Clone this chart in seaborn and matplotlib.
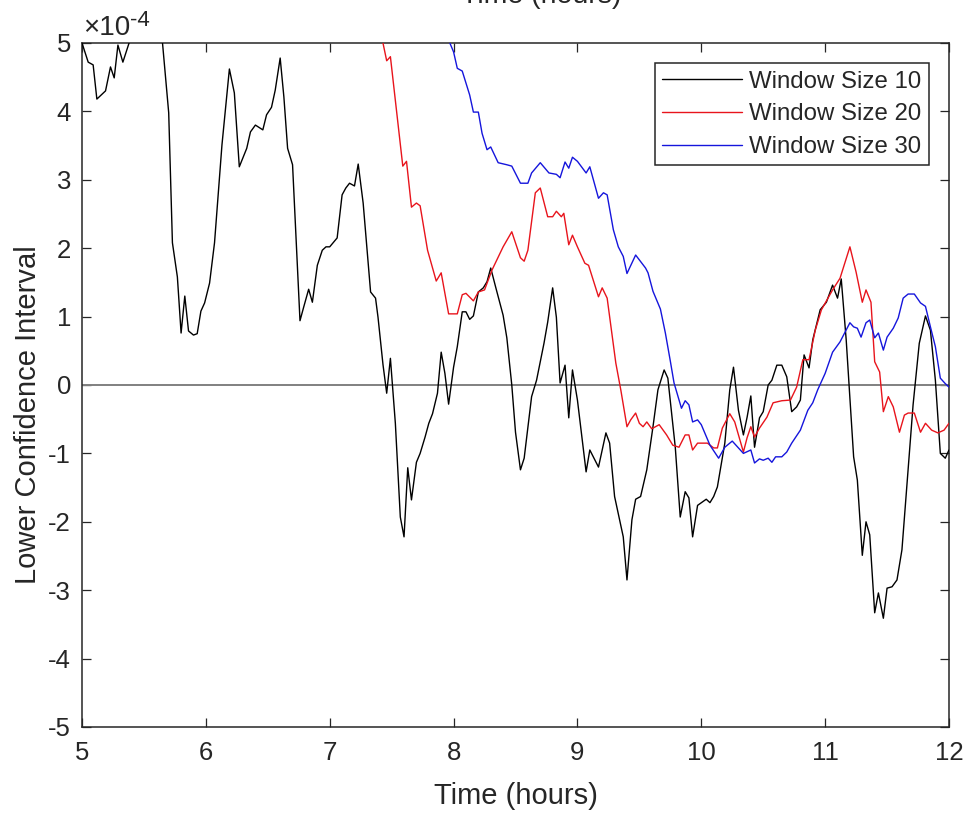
import numpy as np
import pandas as pd
import matplotlib
matplotlib.use("Agg")
import matplotlib.pyplot as plt
import seaborn as sns

# Données (valeurs en unités de 1e-4)
black_t = [5.00, 5.05, 5.09, 5.12, 5.19, 5.23, 5.26, 5.29, 5.33, 5.38, 5.48, 5.60, 5.65, 5.70,
           5.73, 5.77, 5.80, 5.83, 5.86, 5.90, 5.93, 5.96, 5.99, 6.03, 6.07, 6.13, 6.19, 6.23,
           6.27, 6.33, 6.36, 6.40, 6.46, 6.49, 6.53, 6.56, 6.60, 6.63, 6.66, 6.70, 6.76, 6.79,
           6.83, 6.86, 6.90, 6.94, 6.97, 7.00, 7.06, 7.10, 7.13, 7.16, 7.20, 7.23, 7.27, 7.33,
           7.37, 7.39, 7.43, 7.46, 7.49, 7.53, 7.57, 7.60, 7.63, 7.66, 7.70, 7.73, 7.77, 7.80,
           7.83, 7.87, 7.90, 7.93, 7.96, 8.00, 8.03, 8.07, 8.10, 8.13, 8.16, 8.20, 8.24, 8.27,
           8.30, 8.34, 8.40, 8.43, 8.47, 8.50, 8.54, 8.57, 8.63, 8.67, 8.73, 8.76, 8.80, 8.83,
           8.86, 8.90, 8.93, 8.96, 9.00, 9.07, 9.10, 9.17, 9.23, 9.26, 9.30, 9.37, 9.40, 9.44,
           9.47, 9.51, 9.56, 9.61, 9.65, 9.70, 9.73, 9.79, 9.83, 9.87, 9.90, 9.93, 9.97, 10.04,
           10.07, 10.10, 10.13, 10.19, 10.23, 10.26, 10.30, 10.34, 10.37, 10.40, 10.43, 10.47,
           10.50, 10.54, 10.57, 10.61, 10.65, 10.69, 10.73, 10.77, 10.80, 10.83, 10.87, 10.90,
           10.96, 11.01, 11.06, 11.10, 11.13, 11.17, 11.23, 11.26, 11.30, 11.33, 11.36, 11.40,
           11.43, 11.47, 11.50, 11.54, 11.58, 11.62, 11.67, 11.71, 11.76, 11.81, 11.85, 11.89,
           11.93, 11.97, 12.00]
black_v = [5.00, 4.72, 4.68, 4.18, 4.30, 4.65, 4.49, 4.97, 4.72, 5.00, 5.80, 5.80, 5.00, 3.98,
           2.08, 1.58, 0.76, 1.30, 0.79, 0.73, 0.75, 1.08, 1.20, 1.49, 2.08, 3.51, 4.62, 4.27,
           3.19, 3.46, 3.70, 3.80, 3.73, 3.95, 4.06, 4.31, 4.78, 4.21, 3.46, 3.22, 0.94, 1.14,
           1.40, 1.21, 1.75, 1.97, 2.02, 2.02, 2.15, 2.78, 2.88, 2.95, 2.91, 3.23, 2.66, 1.36,
           1.27, 0.99, 0.30, -0.12, 0.39, -0.56, -1.93, -2.22, -1.21, -1.68, -1.13, -1.00, -0.76, -0.56,
           -0.42, -0.12, 0.48, 0.17, -0.28, 0.26, 0.56, 1.07, 1.07, 0.96, 1.01, 1.36, 1.42, 1.51,
           1.71, 1.43, 1.02, 0.69, 0.00, -0.69, -1.24, -1.07, -0.17, 0.07, 0.61, 0.92, 1.42, 0.99,
           0.03, 0.29, -0.48, 0.22, -0.22, -1.27, -0.95, -1.20, -0.70, -0.85, -1.63, -2.22, -2.85, -1.97,
           -1.67, -1.63, -1.24, -0.61, -0.07, 0.22, 0.10, -0.91, -1.93, -1.56, -1.65, -2.22, -1.76, -1.67,
           -1.72, -1.63, -1.49, -0.85, -0.07, 0.26, -0.37, -0.73, -0.47, -0.16, -0.91, -0.48,
           -0.39, 0.00, 0.07, 0.29, 0.29, 0.12, -0.39, -0.32, -0.22, 0.44, 0.25, 0.66,
           1.10, 1.21, 1.46, 1.27, 1.55, 0.66, -1.05, -1.39, -2.49, -2.00, -2.19, -3.33,
           -3.04, -3.41, -2.97, -2.95, -2.85, -2.41, -1.24, -0.29, 0.61, 1.01, 0.80, 0.07,
           -1.00, -1.07, -0.95]

red_t = [7.38, 7.43, 7.46, 7.49, 7.59, 7.62, 7.66, 7.70, 7.73, 7.79, 7.86, 7.90, 7.96, 8.03,
         8.07, 8.10, 8.16, 8.20, 8.25, 8.31, 8.40, 8.47, 8.54, 8.57, 8.60, 8.66, 8.70, 8.76,
         8.80, 8.83, 8.87, 8.89, 8.93, 8.96, 9.00, 9.06, 9.09, 9.17, 9.20, 9.24, 9.31, 9.35,
         9.40, 9.43, 9.47, 9.50, 9.53, 9.56, 9.60, 9.66, 9.72, 9.77, 9.82, 9.87, 9.90, 9.93,
         9.97, 10.05, 10.10, 10.13, 10.17, 10.23, 10.27, 10.34, 10.37, 10.40, 10.43, 10.47,
         10.53, 10.58, 10.65, 10.72, 10.77, 10.82, 10.87, 10.92, 10.97, 11.06, 11.12, 11.20,
         11.25, 11.30, 11.33, 11.37, 11.40, 11.44, 11.47, 11.51, 11.55, 11.60, 11.64, 11.67,
         11.72, 11.77, 11.81, 11.86, 11.91, 11.96, 12.00]
red_v = [5.60, 5.00, 4.74, 4.80, 3.20, 3.27, 2.60, 2.66, 2.62, 1.97, 1.52, 1.64, 1.04, 1.04,
         1.32, 1.34, 1.23, 1.36, 1.39, 1.68, 2.02, 2.24, 1.86, 1.81, 1.97, 2.81, 2.88, 2.46,
         2.46, 2.54, 2.46, 2.51, 2.05, 2.19, 2.02, 1.78, 1.75, 1.29, 1.42, 1.27, 0.32, -0.07,
         -0.61, -0.51, -0.41, -0.56, -0.61, -0.54, -0.64, -0.58, -0.73, -0.88, -0.91, -0.73, -0.73, -0.95,
         -0.85, -0.85, -0.92, -0.92, -0.63, -0.42, -0.54, -0.98, -0.77, -0.61, -0.76, -0.63,
         -0.47, -0.26, -0.23, -0.22, -0.03, 0.37, 0.37, 0.80, 1.10, 1.39, 1.56, 2.02,
         1.65, 1.21, 1.39, 1.21, 0.34, 0.19, -0.39, -0.17, -0.32, -0.69, -0.44, -0.41,
         -0.41, -0.69, -0.56, -0.66, -0.70, -0.66, -0.56]

blue_t = [7.94, 7.97, 8.00, 8.03, 8.07, 8.13, 8.16, 8.20, 8.23, 8.27, 8.30, 8.36, 8.43, 8.47,
          8.54, 8.60, 8.63, 8.70, 8.77, 8.83, 8.86, 8.90, 8.93, 8.96, 9.00, 9.07, 9.10, 9.17,
          9.21, 9.24, 9.29, 9.33, 9.37, 9.40, 9.47, 9.55, 9.57, 9.61, 9.67, 9.71, 9.75, 9.78,
          9.84, 9.87, 9.90, 9.93, 9.97, 10.00, 10.07, 10.14, 10.19, 10.25, 10.34, 10.40, 10.43,
          10.47, 10.50, 10.54, 10.57, 10.60, 10.65, 10.69, 10.73, 10.80, 10.86, 10.90, 10.94,
          11.00, 11.06, 11.12, 11.20, 11.23, 11.26, 11.29, 11.33, 11.36, 11.40, 11.43, 11.47,
          11.50, 11.55, 11.59, 11.63, 11.67, 11.72, 11.77, 11.81, 11.85, 11.89, 11.93, 11.97, 12.00]
blue_v = [5.50, 5.00, 4.87, 4.63, 4.59, 4.24, 3.99, 3.99, 3.68, 3.44, 3.48, 3.25, 3.22, 3.20,
          2.95, 2.95, 3.10, 3.25, 3.10, 3.08, 3.03, 3.26, 3.17, 3.33, 3.27, 3.10, 3.19, 2.73,
          2.81, 2.78, 2.27, 2.02, 1.88, 1.63, 1.90, 1.71, 1.64, 1.37, 1.11, 0.76, 0.35, 0.03,
          -0.34, -0.23, -0.29, -0.54, -0.51, -0.58, -0.88, -1.07, -0.91, -0.82, -1.00, -0.95, -1.14,
          -1.08, -1.10, -1.07, -1.13, -1.05, -1.05, -0.98, -0.85, -0.66, -0.37, -0.26, -0.07,
          0.17, 0.48, 0.63, 0.91, 0.85, 0.83, 0.70, 0.91, 0.95, 0.69, 0.76, 0.51,
          0.70, 0.83, 0.98, 1.27, 1.33, 1.33, 1.20, 1.15, 0.85, 0.56, 0.10, 0.02, -0.03]

series_names = ["Window Size 10", "Window Size 20", "Window Size 30"]
series_colors = ["#000000", "#e8141c", "#1515dc"]
x_ticks = [5, 6, 7, 8, 9, 10, 11, 12]
y_ticks = [-5, -4, -3, -2, -1, 0, 1, 2, 3, 4, 5]

assert len(black_t) == len(black_v)
assert len(red_t) == len(red_v)
assert len(blue_t) == len(blue_v)

frames = []
for name, t, v in zip(series_names, [black_t, red_t, blue_t], [black_v, red_v, blue_v]):
    frames.append(pd.DataFrame({"time": t, "value": v, "series": name}))
df = pd.concat(frames, ignore_index=True)

sns.set_style("ticks")
plt.rcParams["font.family"] = ["Liberation Sans", "DejaVu Sans"]
plt.rcParams["axes.unicode_minus"] = False

fig = plt.figure(figsize=(9.7, 8.17), dpi=100)
ax = fig.add_axes([82 / 970, 1 - 727 / 817, (949 - 82) / 970, (727 - 43) / 817])

ax.axhline(0, color="#808080", lw=1.4, zorder=1)
sns.lineplot(data=df, x="time", y="value", hue="series", hue_order=series_names,
             palette=dict(zip(series_names, series_colors)), estimator=None, sort=False,
             lw=1.0, ax=ax, zorder=3)

ax.set_xlim(5, 12)
ax.set_ylim(-5, 5)
ax.set_xticks(x_ticks)
ax.set_yticks(y_ticks)
ax.set_xticklabels([str(t) for t in x_ticks])
ax.set_yticklabels([str(t) for t in y_ticks])
ax.tick_params(direction="in", length=6.5, width=0.9, top=True, right=True,
               labelsize=18.5, colors="#262626", labelcolor="#262626")
ax.tick_params(axis="x", pad=10)
ax.tick_params(axis="y", pad=8)
for sp in ax.spines.values():
    sp.set_color("#262626")
    sp.set_linewidth(1.1)

ax.set_xlabel("Time (hours)", fontsize=21, color="#262626", labelpad=12)
ax.set_ylabel("Lower Confidence Interval", fontsize=21, color="#262626")
ax.yaxis.set_label_coords(-0.046, 0.456)

leg = ax.legend(loc="upper right", fontsize=17.3, frameon=True, fancybox=False,
                framealpha=1, edgecolor="#262626", handlelength=3.33, labelspacing=0.45,
                borderaxespad=0.85, handletextpad=0.3, borderpad=0.3)
leg.get_frame().set_linewidth(1.1)

# exposant façon MATLAB et titre coupé en haut
fig.text(83 / 970, 1 - 35 / 817, "\u00d710", fontsize=20, color="#262626", va="baseline")
fig.text(130 / 970, 1 - 26 / 817, "-4", fontsize=16, color="#262626", va="baseline")
fig.text(541 / 970, 1 - 3 / 817, "Time (hours)", fontsize=20.5, color="#262626",
         ha="center", va="baseline")

fig.savefig("out.png", dpi=100)
